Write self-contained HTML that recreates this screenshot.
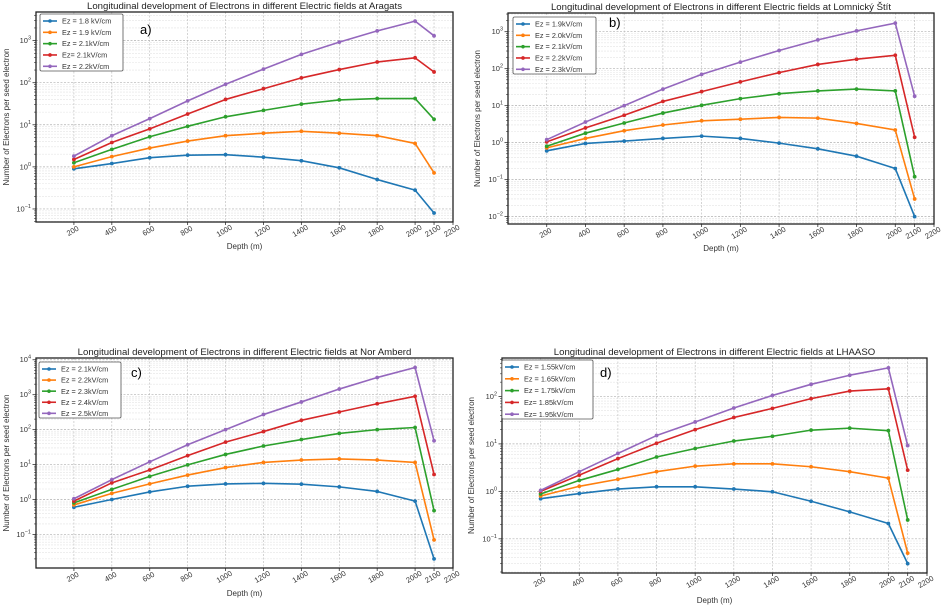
<!DOCTYPE html>
<html><head><meta charset="utf-8">
<style>
html,body{margin:0;padding:0;background:#fff;}
svg{display:block;font-family:"Liberation Sans","DejaVu Sans",sans-serif;}
</style></head>
<body>
<svg id="fig" width="944" height="607" viewBox="0 0 944 607" xmlns="http://www.w3.org/2000/svg"></svg>
<script>
const depths = [200,400,600,800,1000,1200,1400,1600,1800,2000,2100];
const xTicks = [200,400,600,800,1000,1200,1400,1600,1800,2000,2100,2200];
const colors = ["#1f77b4","#ff7f0e","#2ca02c","#d62728","#9467bd"];

const titlesAll = [
 "Longitudinal development of Electrons in different Electric fields at Aragats",
 "Longitudinal development of Electrons in different Electric fields at Lomnický Štít",
 "Longitudinal development of Electrons in different Electric fields at Nor Amberd",
 "Longitudinal development of Electrons in different Electric fields at LHAASO"];
const panelTags = ["a)","b)","c)","d)"];

const legendA = ["Ez = 1.8 kV/cm","Ez = 1.9 kV/cm","Ez = 2.1kV/cm","Ez= 2.1kV/cm","Ez = 2.2kV/cm"];
const legendB = ["Ez = 1.9kV/cm","Ez = 2.0kV/cm","Ez = 2.1kV/cm","Ez = 2.2kV/cm","Ez = 2.3kV/cm"];
const legendC = ["Ez = 2.1kV/cm","Ez = 2.2kV/cm","Ez = 2.3kV/cm","Ez = 2.4kV/cm","Ez = 2.5kV/cm"];
const legendD = ["Ez = 1.55kV/cm","Ez = 1.65kV/cm","Ez = 1.75kV/cm","Ez= 1.85kV/cm","Ez= 1.95kV/cm"];

const a1 = [0.9,1.2,1.65,1.9,1.95,1.7,1.4,0.95,0.5,0.28,0.08];
const a2 = [1.0,1.75,2.8,4.1,5.5,6.3,7.0,6.3,5.5,3.6,0.72];
const a3 = [1.25,2.6,5.2,9.2,15.5,22,31,39,42,42,13.5];
const a4 = [1.5,3.8,8,18,40,72,130,205,310,390,180];
const a5 = [1.8,5.5,14,37,92,210,470,920,1700,2900,1300];

const b1 = [0.6,0.95,1.1,1.3,1.5,1.3,0.97,0.68,0.43,0.2,0.01];
const b2 = [0.72,1.3,2.1,3.0,3.9,4.3,4.8,4.6,3.3,2.2,0.03];
const b3 = [0.8,1.8,3.4,6.3,10.2,15.5,21,25,28,25,0.12];
const b4 = [1.05,2.5,5.5,13,24,44,78,130,180,230,1.4];
const b5 = [1.2,3.6,10,28,70,150,310,600,1050,1700,18];

const c1 = [0.6,1.0,1.65,2.4,2.8,2.9,2.75,2.3,1.7,0.9,0.02];
const c2 = [0.7,1.5,2.8,5.0,8.2,11.5,13.5,14.5,13.5,11.5,0.07];
const c3 = [0.8,1.95,4.6,9.8,19.5,34,52,78,100,115,0.48];
const c4 = [0.9,3.0,7,18,44,88,185,320,550,900,5.2];
const c5 = [1.05,3.7,12,37,100,270,620,1450,3100,6000,48];

const d1 = [0.7,0.9,1.12,1.25,1.25,1.12,0.98,0.62,0.37,0.21,0.03];
const d2 = [0.8,1.28,1.8,2.6,3.4,3.8,3.8,3.3,2.6,1.9,0.05];
const d3 = [0.88,1.7,2.9,5.3,8.0,11.5,14.5,19.5,21.5,19,0.25];
const d4 = [1.0,2.2,4.9,10.3,20,36,56,90,130,145,2.8];
const d5 = [1.05,2.6,6.3,15,29,57,105,180,280,400,9.2];

const yDecadesA = [-1,0,1,2,3];
const yDecadesB = [-2,-1,0,1,2,3];
const yDecadesC = [-1,0,1,2,3,4];
const yDecadesD = [-1,0,1,2];

const NS = "http://www.w3.org/2000/svg";
const svg = document.getElementById("fig");
function mk(tag, attrs, parent){
  const e = document.createElementNS(NS, tag);
  for (const k in attrs) e.setAttribute(k, attrs[k]);
  (parent||svg).appendChild(e);
  return e;
}

const panels = [
 {key:"a", L:36, R:453, T:12, B:222, ymin:-1.31, ymax:3.68, series:[a1,a2,a3,a4,a5], legend:legendA, dec:yDecadesA,
  lg:{x:40,y:14,w:83,h:57}, tag:{x:140,y:34}, ylabX:9, xlabY:249, titleY:9},
 {key:"b", L:508, R:934, T:13, B:224, ymin:-2.2, ymax:3.505, series:[b1,b2,b3,b4,b5], legend:legendB, dec:yDecadesB,
  lg:{x:513,y:17,w:83,h:57}, tag:{x:609,y:27}, ylabX:480, xlabY:251, titleY:10},
 {key:"c", L:36, R:453, T:358, B:568, ymin:-1.96, ymax:4.05, series:[c1,c2,c3,c4,c5], legend:legendC, dec:yDecadesC,
  lg:{x:39,y:362,w:82,h:56}, tag:{x:131,y:377}, ylabX:9, xlabY:596, titleY:355},
 {key:"d", L:502, R:927, T:358, B:573, ymin:-1.72, ymax:2.81, series:[d1,d2,d3,d4,d5], legend:legendD, dec:yDecadesD,
  lg:{x:502,y:360,w:91,h:59}, tag:{x:600,y:377}, ylabX:474, xlabY:603, titleY:355}
];

panels.forEach((p, pi) => {
  const g = mk("g", {});
  
  
  const xS = v => p.L + (v/2200)*(p.R-p.L);
  const yS = v => p.B - (Math.log10(v)-p.ymin)/(p.ymax-p.ymin)*(p.B-p.T);

  // minor y grid
  for (let d = Math.floor(p.ymin); d <= Math.ceil(p.ymax); d++) {
    for (let m = 2; m <= 9; m++) {
      const v = m*Math.pow(10,d);
      const lv = Math.log10(v);
      if (lv <= p.ymin || lv >= p.ymax) continue;
      const y = yS(v);
      const ln = mk("line",{x1:p.L,x2:p.R,y1:y,y2:y,stroke:"#e4e4e4","stroke-width":0.6,"stroke-dasharray":"2,1"},g);
      
      
      mk("line",{x1:p.L-2,x2:p.L,y1:y,y2:y,stroke:"#333","stroke-width":0.6},g);
    }
  }
  // major y grid + labels
  p.dec.forEach(d => {
    const y = yS(Math.pow(10,d));
    const ln = mk("line",{x1:p.L,x2:p.R,y1:y,y2:y,stroke:"#b0b0b0","stroke-width":0.7,"stroke-dasharray":"2,1.5"},g);
    
    
    mk("line",{x1:p.L-3.5,x2:p.L,y1:y,y2:y,stroke:"#333","stroke-width":0.8},g);
    const t = mk("text",{x:p.L-5,y:y+2.5,"text-anchor":"end","font-size":"7.5",fill:"#333"},g);
    
    
    t.appendChild(document.createTextNode("10"));
    const s = mk("tspan",{dy:"-3.5","font-size":"5.5"},t);
    s.textContent = (d<0?"\u2212":"") + Math.abs(d);
  });
  // x grid + tick labels
  xTicks.forEach(v => {
    const x = xS(v);
    if (v !== 2200) {
      const ln = mk("line",{x1:x,x2:x,y1:p.T,y2:p.B,stroke:"#b8b8b8","stroke-width":0.6,"stroke-dasharray":"2,1.5"},g);
      
      
    }
    mk("line",{x1:x,x2:x,y1:p.B,y2:p.B+3,stroke:"#333","stroke-width":0.8},g);
    const ty = p.B + 11;
    const t = mk("text",{x:x,y:ty,"text-anchor":"middle","font-size":"7.5",fill:"#333",transform:`rotate(-30 ${x} ${ty})`},g);
    
    
    t.textContent = v;
  });
  // axes frame
  const fr = mk("rect",{x:p.L,y:p.T,width:p.R-p.L,height:p.B-p.T,fill:"none",stroke:"#222","stroke-width":1.3},g);
  
  

  // series
  p.series.forEach((s, si) => {
    const pts = s.map((v,i) => xS(depths[i]).toFixed(2)+","+yS(v).toFixed(2)).join(" ");
    const pl = mk("polyline",{points:pts,fill:"none",stroke:colors[si],"stroke-width":1.6,"stroke-linejoin":"round"},g);
    
    
    s.forEach((v,i) => {
      const c = mk("circle",{cx:xS(depths[i]),cy:yS(v),r:1.9,fill:colors[si]},g);
      
      
    });
  });

  // legend
  const lg = mk("g",{},g);
  
  
  mk("rect",{x:p.lg.x,y:p.lg.y,width:p.lg.w,height:p.lg.h,fill:"#fff",stroke:"#555","stroke-width":0.8,rx:1.5},lg);
  const step = (p.lg.h-10)/4.4;
  p.legend.forEach((lab, li) => {
    const y = p.lg.y + 7 + li*step*1.06;
    mk("line",{x1:p.lg.x+3,x2:p.lg.x+17,y1:y,y2:y,stroke:colors[li],"stroke-width":1.6},lg);
    mk("circle",{cx:p.lg.x+10,cy:y,r:1.8,fill:colors[li]},lg);
    const t = mk("text",{x:p.lg.x+22,y:y+2.6,"font-size":"7.3",fill:"#333"},lg);
    
    
    t.textContent = lab;
  });

  // panel tag
  const tg = mk("text",{x:p.tag.x,y:p.tag.y,"font-size":"13",fill:"#000"},g);
  
  
  tg.textContent = panelTags[pi];

  // title
  const tt = mk("text",{x:(p.L+p.R)/2,y:p.titleY,"text-anchor":"middle","font-size":"9.6",fill:"#222"},g);
  
  
  tt.textContent = titlesAll[pi];

  // y label
  const yc = (p.T+p.B)/2;
  const yl = mk("text",{x:p.ylabX,y:yc,"text-anchor":"middle","font-size":"8",fill:"#333",transform:`rotate(-90 ${p.ylabX} ${yc})`},g);
  
  
  yl.textContent = "Number of Electrons per seed electron";

  // x label
  const xl = mk("text",{x:(p.L+p.R)/2,y:p.xlabY,"text-anchor":"middle","font-size":"8",fill:"#333"},g);
  
  
  xl.textContent = "Depth (m)";
});
</script>
</body></html>
